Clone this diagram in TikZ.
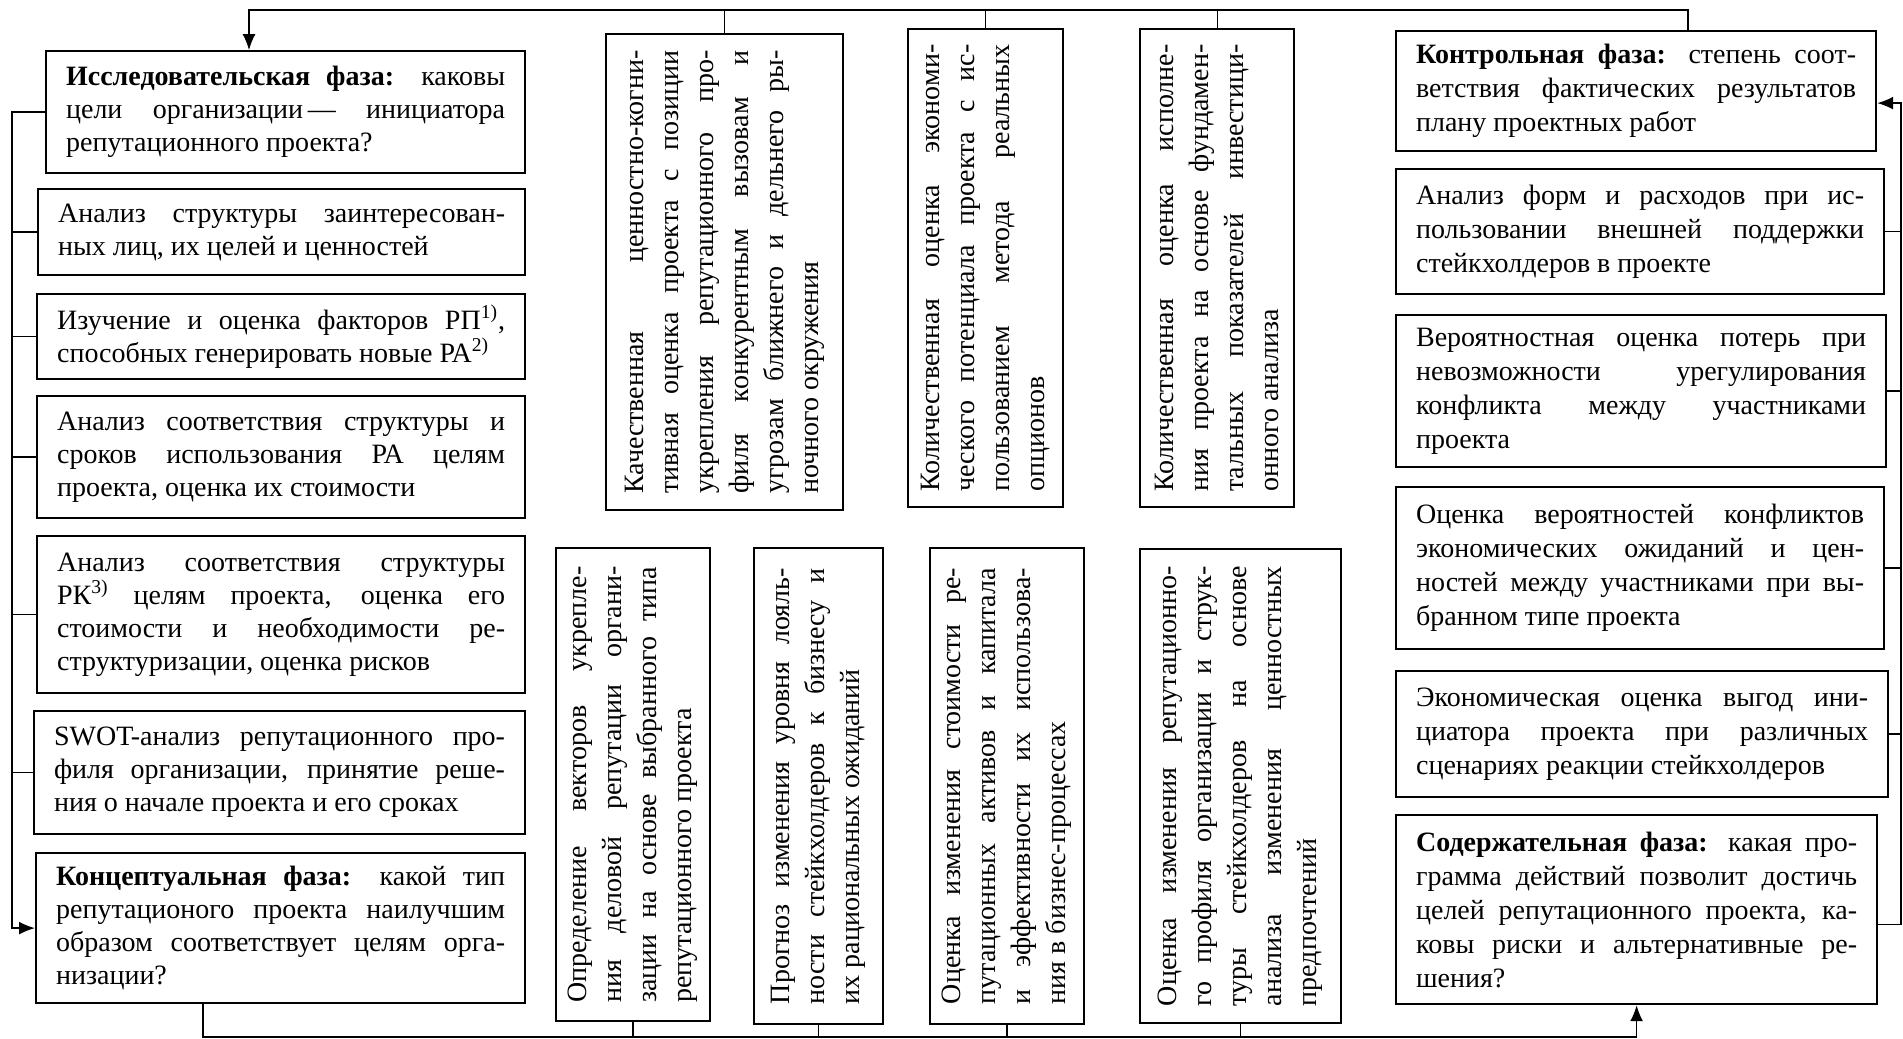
\documentclass[tikz,border=0pt]{standalone}
\usepackage{fontspec}
\setmainfont{Liberation Serif}
\usepackage{graphicx}
\usetikzlibrary{arrows.meta}

\hyphenpenalty=10000
\exhyphenpenalty=10000
\tolerance=9999

\newcommand{\boxfont}{\fontsize{14}{16.5}\selectfont}
\newcommand{\rboxfont}{\fontsize{14}{17}\selectfont}
\newcommand{\vtext}[2]{\rotatebox{90}{\parbox{#1}{\fontsize{14}{17.5}\selectfont #2}}}

\begin{document}
\begin{tikzpicture}[x=0.5pt, y=-0.5pt,
  hbox/.style={draw, line width=1.1pt, anchor=north west, inner xsep=10pt, inner ysep=0pt, align=justify, font=\boxfont},
  rbox/.style={hbox, font=\rboxfont},
  vbox/.style={draw, line width=1.1pt, anchor=north west, inner sep=0pt},
  link/.style={line width=0.8pt},
  toplink/.style={line width=0.6pt},
  arr/.style={-{Latex[length=8pt, width=6.5pt]}}]

  \useasboundingbox (0,0) rectangle (1903,1039);

  % left column
  \node[hbox, text width=219.5pt, minimum height=61pt] (explore) at (45,50)
    {\textbf{Исследовательская фаза:} каковы\linebreak цели организации\,— инициатора\linebreak репутационного проекта?};
  \node[hbox, text width=223.5pt, minimum height=43pt] (stake) at (37,188)
    {Анализ структуры заинтересован-\linebreak ных лиц, их целей и ценностей};
  \node[hbox, text width=224pt, minimum height=42.5pt] (factors) at (36,293)
    {Изучение и оценка факторов РП\textsuperscript{1)},\linebreak способных генерировать новые РА\textsuperscript{2)}};
  \node[hbox, text width=224pt, minimum height=61pt] (assets) at (36,395)
    {Анализ соответствия структуры и\linebreak сроков использования РА целям\linebreak проекта, оценка их стоимости};
  \node[hbox, text width=224pt, minimum height=78.5pt] (capital) at (36,535)
    {Анализ соответствия структуры\linebreak РК\textsuperscript{3)} целям проекта, оценка его\linebreak стоимости и необходимости ре-\linebreak структуризации, оценка рисков};
  \node[hbox, text width=225.5pt, minimum height=61.5pt] (swot) at (33,710)
    {SWOT-анализ репутационного про-\linebreak филя организации, принятие реше-\linebreak ния о начале проекта и его сроках};
  \node[hbox, text width=224.5pt, minimum height=75pt] (concept) at (35,852)
    {\textbf{Концептуальная фаза:} какой тип\linebreak репутационого проекта наилучшим\linebreak образом соответствует целям орга-\linebreak низации?};

  % middle, upper row
  \node[vbox, minimum width=118.5pt, minimum height=238pt] (quality) at (605,33)
    {\vtext{221.5pt}{Качественная ценностно-когни-\linebreak тивная оценка проекта с позиции\linebreak укрепления репутационного про-\linebreak филя конкурентным вызовам и\linebreak угрозам ближнего и дельнего ры-\linebreak ночного окружения}};
  \node[vbox, minimum width=77.5pt, minimum height=239pt] (option) at (907,28)
    {\vtext{223.5pt}{Количественная оценка экономи-\linebreak ческого потенциала проекта с ис-\linebreak пользованием метода реальных\linebreak опционов}};
  \node[vbox, minimum width=77pt, minimum height=239pt] (fund) at (1139,28)
    {\vtext{223.5pt}{Количественная оценка исполне-\linebreak ния проекта на основе фундамен-\linebreak тальных показателей инвестици-\linebreak онного анализа}};

  % middle, lower row
  \node[vbox, minimum width=77pt, minimum height=236.5pt] (vector) at (555,547)
    {\vtext{218pt}{Определение векторов укрепле-\linebreak ния деловой репутации органи-\linebreak зации на основе выбранного типа\linebreak репутационного проекта}};
  \node[vbox, minimum width=64.5pt, minimum height=238pt] (loyal) at (753,547)
    {\vtext{218pt}{Прогноз изменения уровня лояль-\linebreak ности стейкхолдеров к бизнесу и\linebreak их рациональных ожиданий}};
  \node[vbox, minimum width=77pt, minimum height=238pt] (value) at (929,547)
    {\vtext{218pt}{Оценка изменения стоимости ре-\linebreak путационных активов и капитала\linebreak и эффективности их использова-\linebreak ния в бизнес-процессах}};
  \node[vbox, minimum width=100.5pt, minimum height=237pt] (pref) at (1139,548)
    {\vtext{220pt}{Оценка изменения репутационно-\linebreak го профиля организации и струк-\linebreak туры стейкхолдеров на основе\linebreak анализа изменения ценностных\linebreak предпочтений}};

  % right column
  \node[rbox, text width=220pt, minimum height=60pt] (ctrl) at (1395,30)
    {\textbf{Контрольная фаза:} степень соот-\linebreak ветствия фактических результатов\linebreak плану проектных работ};
  \node[rbox, text width=224pt, minimum height=62.5pt] (forms) at (1395,168)
    {Анализ форм и расходов при ис-\linebreak пользовании внешней поддержки\linebreak стейкхолдеров в проекте};
  \node[rbox, text width=225pt, minimum height=76pt] (loss) at (1395,314)
    {Вероятностная оценка потерь при\linebreak невозможности урегулирования\linebreak конфликта между участниками\linebreak проекта};
  \node[rbox, text width=224pt, minimum height=81pt] (conflict) at (1395,486)
    {Оценка вероятностей конфликтов\linebreak экономических ожиданий и цен-\linebreak ностей между участниками при вы-\linebreak бранном типе проекта};
  \node[rbox, text width=226pt, minimum height=63pt] (benefit) at (1395,670)
    {Экономическая оценка выгод ини-\linebreak циатора проекта при различных\linebreak сценариях реакции стейкхолдеров};
  \node[rbox, text width=220.5pt, minimum height=94.5pt] (content) at (1395,814)
    {\textbf{Содержательная фаза:} какая про-\linebreak грамма действий позволит достичь\linebreak целей репутационного проекта, ка-\linebreak ковы риски и альтернативные ре-\linebreak шения?};

  % connectors
  \coordinate (tl) at (249,10);
  \coordinate (tr) at (1688,10);
  \coordinate (ll) at (12,0);
  \coordinate (rr) at (1901,0);
  \coordinate (bl) at (203,1037);
  \coordinate (cin) at ([yshift=-6pt]ctrl.east);
  \coordinate (cout) at ([yshift=-7.5pt]content.east);

  \draw[toplink, arr] (ctrl.north -| tr) -- (tr) -- (tl) -- (explore.north -| tl);
  \foreach \n in {quality,option,fund}
    \draw[toplink] (\n.north) -- (\n.north |- tl);

  \draw[link, arr] (explore.west) -- (explore.west -| ll) -- (concept.west -| ll) -- (concept.west);
  \foreach \n in {stake,factors,assets,capital,swot}
    \draw[link] (\n.west) -- (\n.west -| ll);

  \draw[link, arr] (concept.south -| bl) -- (bl) -- (content.south |- bl) -- (content.south);
  \foreach \n in {vector,loyal,value,pref}
    \draw[link] (\n.south) -- (\n.south |- bl);

  \draw[link, arr] (cout) -- (cout -| rr) -- (cin -| rr) -- (cin);
  \foreach \n in {forms,loss,conflict,benefit}
    \draw[link] (\n.east) -- (\n.east -| rr);
\end{tikzpicture}
\end{document}
